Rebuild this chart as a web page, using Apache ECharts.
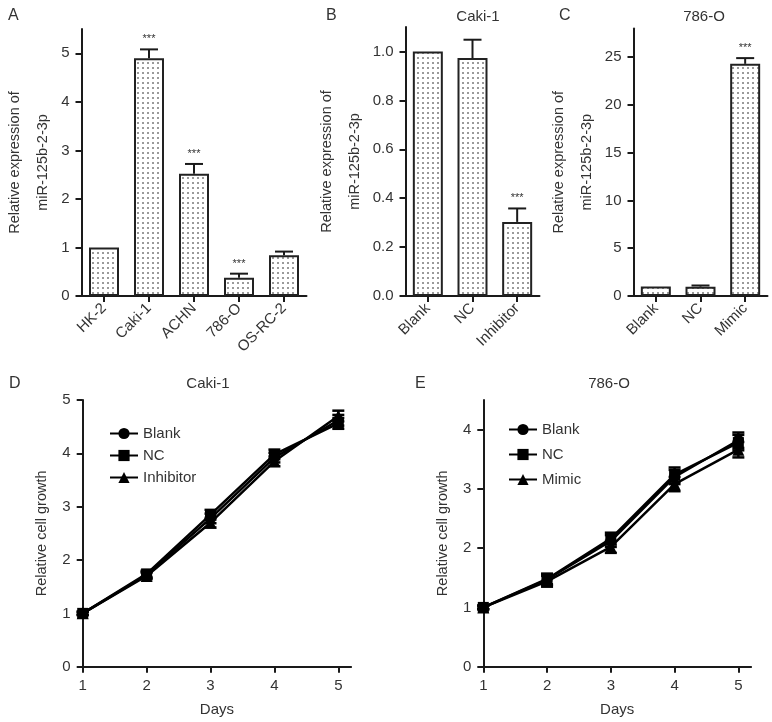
<!DOCTYPE html>
<html><head><meta charset="utf-8">
<script src="https://cdn.jsdelivr.net/npm/echarts@6/dist/echarts.min.js"></script>
<style>html,body{margin:0;padding:0;background:#fff}#c{width:772px;height:722px}</style>
</head><body><div id="c"></div>
<script>
// ---------- data ----------
const catsA = ['HK-2', 'Caki-1', 'ACHN', '786-O', 'OS-RC-2'];
const valsA = [1.0, 4.90, 2.52, 0.375, 0.84];
const errA  = [0, 0.18, 0.20, 0.085, 0.075];
const sigA  = ['', '***', '***', '***', ''];
const ticksA = [0, 1, 2, 3, 4, 5];

const catsB = ['Blank', 'NC', 'Inhibitor'];
const valsB = [1.0, 0.973, 0.303];
const errB  = [0, 0.075, 0.055];
const sigB  = ['', '', '***'];
const ticksB = [0, 0.2, 0.4, 0.6, 0.8, 1.0];

const catsC = ['Blank', 'NC', 'Mimic'];
const valsC = [1.0, 0.98, 24.3];
const errC  = [0, 0.12, 0.6];
const sigC  = ['', '', '***'];
const ticksC = [0, 5, 10, 15, 20, 25];

const days = [1, 2, 3, 4, 5];
const blankD = [1, 1.72, 2.78, 3.92, 4.62];
const ncD    = [1, 1.74, 2.85, 3.98, 4.56];
const inhD   = [1, 1.70, 2.70, 3.85, 4.70];
const errD   = [0.03, 0.06, 0.09, 0.09, 0.1];
const ticksDy = [0, 1, 2, 3, 4, 5];

const blankE = [1, 1.47, 2.12, 3.20, 3.82];
const ncE    = [1, 1.48, 2.16, 3.24, 3.78];
const mimicE = [1, 1.44, 2.02, 3.08, 3.66];
const errE   = [0.03, 0.09, 0.1, 0.12, 0.13];
const ticksEy = [0, 1, 2, 3, 4];

// ---------- style helpers ----------
const FONT = "'Liberation Sans', Arial, sans-serif";
const TXT = '#333';
const AX = '#1a1a1a';

const pc = document.createElement('canvas');
pc.width = 5; pc.height = 5;
const pctx = pc.getContext('2d');
pctx.fillStyle = '#ffffff'; pctx.fillRect(0, 0, 5, 5);
pctx.fillStyle = '#9a9a9a'; pctx.fillRect(2, 2, 2, 2);
const dotFill = { image: pc, repeat: 'repeat' };

function yAxisOpt(grid, max, ticks, name, gap, fmt) {
  return {
    type: 'value', gridIndex: grid, min: 0, max: max,
    axisLine: { show: true, lineStyle: { color: AX, width: 2 } },
    axisTick: { show: true, length: 6, lineStyle: { color: AX, width: 2 }, customValues: ticks },
    axisLabel: { color: TXT, fontSize: 15, fontFamily: FONT, margin: 12, customValues: ticks,
      formatter: fmt || (v => String(v)) },
    splitLine: { show: false },
    name: name, nameLocation: 'middle', nameRotate: 90, nameGap: gap,
    nameTextStyle: { color: TXT, fontSize: 14.5, fontFamily: FONT, lineHeight: 28 }
  };
}
function catAxisOpt(grid, cats) {
  return {
    type: 'category', gridIndex: grid, data: cats,
    axisLine: { show: true, lineStyle: { color: AX, width: 2 } },
    axisTick: { show: true, alignWithLabel: true, length: 6, lineStyle: { color: AX, width: 2 } },
    axisLabel: { color: TXT, fontSize: 15, fontFamily: FONT, rotate: 45, margin: 10, interval: 0 }
  };
}
function valXAxisOpt(grid, max) {
  return {
    type: 'value', gridIndex: grid, min: 1, max: max,
    axisLine: { show: true, onZero: false, lineStyle: { color: AX, width: 2 } },
    axisTick: { show: true, length: 6, lineStyle: { color: AX, width: 2 }, customValues: days },
    axisLabel: { color: TXT, fontSize: 15, fontFamily: FONT, margin: 12, customValues: days },
    splitLine: { show: false },
    name: 'Days', nameLocation: 'middle', nameGap: 36,
    nameTextStyle: { color: TXT, fontSize: 15, fontFamily: FONT }
  };
}
function barErrRender(sig) {
  return function (params, api) {
    const i = api.value(0), v = api.value(1), e = api.value(2);
    const base = api.coord([i, v]);
    const top = api.coord([i, v + e]);
    const ch = [];
    if (e > 0) {
      ch.push({ type: 'line', shape: { x1: base[0], y1: base[1], x2: top[0], y2: top[1] }, style: { stroke: AX, lineWidth: 2 } });
      ch.push({ type: 'line', shape: { x1: top[0] - 9, y1: top[1], x2: top[0] + 9, y2: top[1] }, style: { stroke: AX, lineWidth: 2 } });
    }
    const s = sig[params.dataIndex];
    if (s) ch.push({ type: 'text', x: top[0], y: top[1] - 10, style: { text: s, align: 'center', verticalAlign: 'middle', fontSize: 11, fontFamily: FONT, fill: TXT } });
    return { type: 'group', children: ch };
  };
}
function lineErrRender(params, api) {
  const x = api.value(0), v = api.value(1), e = api.value(2);
  const lo = api.coord([x, v - e]);
  const hi = api.coord([x, v + e]);
  const st = { stroke: '#000', lineWidth: 2.5 };
  return { type: 'group', children: [
    { type: 'line', shape: { x1: lo[0], y1: lo[1], x2: hi[0], y2: hi[1] }, style: st },
    { type: 'line', shape: { x1: lo[0] - 6, y1: lo[1], x2: lo[0] + 6, y2: lo[1] }, style: st },
    { type: 'line', shape: { x1: hi[0] - 6, y1: hi[1], x2: hi[0] + 6, y2: hi[1] }, style: st }
  ] };
}
function barSeries(grid, vals) {
  return { type: 'bar', xAxisIndex: grid, yAxisIndex: grid, data: vals, barWidth: 30,
    itemStyle: { color: dotFill, borderColor: '#222', borderWidth: 2 }, silent: true };
}
function barErrSeries(grid, vals, errs, sig) {
  return { type: 'custom', xAxisIndex: grid, yAxisIndex: grid, z: 5, silent: true,
    renderItem: barErrRender(sig), data: vals.map((v, i) => [i, v, errs[i]]) };
}
function lineSeries(grid, name, vals, symbol, size) {
  return { type: 'line', name: name, xAxisIndex: grid, yAxisIndex: grid,
    data: vals.map((v, i) => [days[i], v]), symbol: symbol, symbolSize: size, showAllSymbol: true,
    itemStyle: { color: '#000' }, lineStyle: { color: '#000', width: 2.5 }, z: 4, silent: true };
}
function lineErrSeries(grid, vals, errs) {
  return { type: 'custom', xAxisIndex: grid, yAxisIndex: grid, z: 3, silent: true,
    renderItem: lineErrRender, data: vals.map((v, i) => [days[i], v, errs[i]]) };
}

const titleStyle = { color: TXT, fontSize: 15, fontFamily: FONT, fontWeight: 'normal' };
const letterStyle = { color: TXT, fontSize: 16, fontFamily: FONT, fontWeight: 'normal' };

const option = {
  animation: false,
  backgroundColor: '#fff',
  title: [
    { text: 'A', left: 3, top: 3, textStyle: letterStyle },
    { text: 'B', left: 321, top: 3, textStyle: letterStyle },
    { text: 'C', left: 554, top: 3, textStyle: letterStyle },
    { text: 'D', left: 4, top: 371, textStyle: letterStyle },
    { text: 'E', left: 410, top: 371, textStyle: letterStyle },
    { text: 'Caki-1', left: 473, top: 4, textAlign: 'center', textStyle: titleStyle },
    { text: '786-O', left: 699, top: 4, textAlign: 'center', textStyle: titleStyle },
    { text: 'Caki-1', left: 203, top: 371, textAlign: 'center', textStyle: titleStyle },
    { text: '786-O', left: 604, top: 371, textAlign: 'center', textStyle: titleStyle }
  ],
  grid: [
    { left: 81.5, top: 29, width: 225, height: 267 },
    { left: 405.5, top: 27, width: 134, height: 269 },
    { left: 633.5, top: 28.5, width: 134, height: 267.5 },
    { left: 82.7, top: 400, width: 268.4, height: 266.7 },
    { left: 483.3, top: 399.9, width: 267.8, height: 266.8 }
  ],
  legend: [
    { data: ['Blank', 'NC', 'Inhibitor'], orient: 'vertical', left: 104, top: 421, itemGap: 7,
      itemWidth: 28, itemHeight: 14, textStyle: { color: TXT, fontSize: 15, fontFamily: FONT }, selectedMode: false },
    { data: ['Blank', 'NC', 'Mimic'], orient: 'vertical', left: 503, top: 417, itemGap: 10,
      itemWidth: 28, itemHeight: 14, textStyle: { color: TXT, fontSize: 15, fontFamily: FONT }, selectedMode: false }
  ],
  xAxis: [
    catAxisOpt(0, catsA), catAxisOpt(1, catsB), catAxisOpt(2, catsC),
    valXAxisOpt(3, 5.2), valXAxisOpt(4, 5.2)
  ],
  yAxis: [
    yAxisOpt(0, 5.5, ticksA, 'Relative expression of\nmiR-125b-2-3p', 19.5),
    yAxisOpt(1, 1.1, ticksB, 'Relative expression of\nmiR-125b-2-3p', 29, v => v.toFixed(1)),
    yAxisOpt(2, 28, ticksC, 'Relative expression of\nmiR-125b-2-3p', 25.5),
    yAxisOpt(3, 5, ticksDy, 'Relative cell growth', 27),
    yAxisOpt(4, 4.5, ticksEy, 'Relative cell growth', 26)
  ],
  series: [
    barSeries(0, valsA), barErrSeries(0, valsA, errA, sigA),
    barSeries(1, valsB), barErrSeries(1, valsB, errB, sigB),
    barSeries(2, valsC), barErrSeries(2, valsC, errC, sigC),
    lineErrSeries(3, blankD, errD), lineErrSeries(3, ncD, errD), lineErrSeries(3, inhD, errD),
    lineSeries(3, 'Blank', blankD, 'circle', 11),
    lineSeries(3, 'NC', ncD, 'rect', 11),
    lineSeries(3, 'Inhibitor', inhD, 'triangle', 12),
    lineErrSeries(4, blankE, errE), lineErrSeries(4, ncE, errE), lineErrSeries(4, mimicE, errE),
    lineSeries(4, 'Blank', blankE, 'circle', 11),
    lineSeries(4, 'NC', ncE, 'rect', 11),
    lineSeries(4, 'Mimic', mimicE, 'triangle', 12)
  ]
};
const chart = echarts.init(document.getElementById('c'), null, { renderer: 'canvas' });
chart.setOption(option);
</script>
</body></html>
